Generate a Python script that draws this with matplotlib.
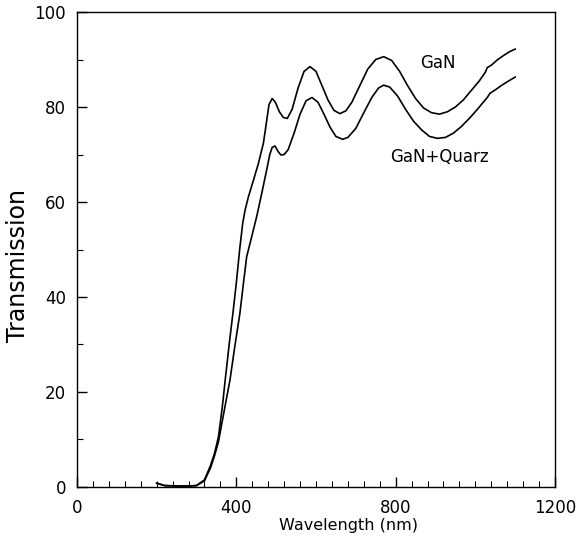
import numpy as np
import matplotlib.pyplot as plt
from matplotlib.ticker import MultipleLocator

plt.rcParams['font.family'] = ['DejaVu Sans']

# GaN (upper curve)
wl_gan = [200, 220, 250, 280, 300, 320, 335, 345, 355, 365, 372, 382, 392, 400,
          409, 416, 422, 430, 443, 455, 468, 476, 482, 490, 498, 508, 518, 528,
          540, 555, 570, 585, 600, 615, 630, 645, 660, 675, 690, 710, 730, 750,
          770, 790, 810, 830, 850, 870, 890, 910, 930, 950, 970, 990, 1010, 1025,
          1030, 1040, 1055, 1070, 1085, 1100]
t_gan = [0.8, 0.3, 0.2, 0.2, 0.3, 1.5, 4.5, 7, 10.5, 17, 22.5, 30, 37, 43,
         50.5, 55.5, 58.3, 61, 64.6, 68, 72.4, 77, 80.5, 81.8, 81, 79, 77.8, 77.6,
         79.5, 84, 87.5, 88.5, 87.5, 84.5, 81.5, 79.3, 78.6, 79.2, 81, 84.5, 88, 90,
         90.6, 89.8, 87.5, 84.5, 81.8, 79.8, 78.8, 78.5, 79, 80, 81.5, 83.5, 85.5, 87.3,
         88.3, 88.8, 89.9, 90.8, 91.6, 92.2]

# GaN + Quarz (lower curve)
wl_gq = [200, 220, 250, 280, 300, 320, 335, 345, 355, 365, 375, 384, 396, 409,
         418, 426, 438, 451, 463, 476, 484, 490, 497, 505, 512, 520, 530, 545,
         560, 575, 590, 605, 620, 635, 650, 667, 680, 700, 720, 740, 757, 770,
         785, 805, 825, 845, 865, 885, 905, 925, 945, 965, 985, 1005, 1025, 1030,
         1033, 1037, 1050, 1065, 1080, 1100]
t_gq = [0.8, 0.3, 0.2, 0.2, 0.3, 1.3, 4, 6.5, 9.5, 14, 18.5, 22.5, 29.5, 36.6,
        43, 48.5, 52.5, 56.9, 61.5, 66.7, 70, 71.5, 71.8, 70.6, 69.9, 70, 71, 74.5,
        78.5, 81.3, 82, 81, 78.5, 75.8, 73.8, 73.2, 73.6, 75.5, 78.8, 82, 84, 84.6,
        84.2, 82.3, 79.5, 77, 75.2, 73.8, 73.4, 73.6, 74.5, 75.9, 77.6, 79.5, 81.5, 82,
        82.4, 82.9, 83.6, 84.5, 85.3, 86.3]

fig = plt.figure(figsize=(5.76, 5.39), dpi=100)
ax = fig.add_axes([0.1337, 0.0965, 0.8298, 0.8812])

ax.plot(wl_gan, t_gan, color='black', lw=1.2)
ax.plot(wl_gq, t_gq, color='black', lw=1.2)

ax.text(907, 89.3, 'GaN', fontsize=12, ha='center', va='center')
ax.text(910, 69.5, 'GaN+Quarz', fontsize=12, ha='center', va='center')

ax.set_xlim(0, 1200)
ax.set_ylim(0, 100)
ax.xaxis.set_major_locator(MultipleLocator(400))
ax.xaxis.set_minor_locator(MultipleLocator(40))
ax.yaxis.set_major_locator(MultipleLocator(20))
ax.yaxis.set_minor_locator(MultipleLocator(10))
ax.tick_params(which='major', direction='in', length=7, width=1, labelsize=12, pad=9)
ax.tick_params(which='minor', direction='in', length=4.3, width=0.8)
ax.tick_params(axis='y', pad=8)

ax.set_xlabel('Wavelength (nm)', fontsize=11.5)
ax.xaxis.set_label_coords(0.567, -0.066)
ax.set_ylabel('Transmission', fontsize=17)
ax.yaxis.set_label_coords(-0.098, 0.467)

for s in ax.spines.values():
    s.set_linewidth(1.0)

fig.savefig('out.png', dpi=100)
